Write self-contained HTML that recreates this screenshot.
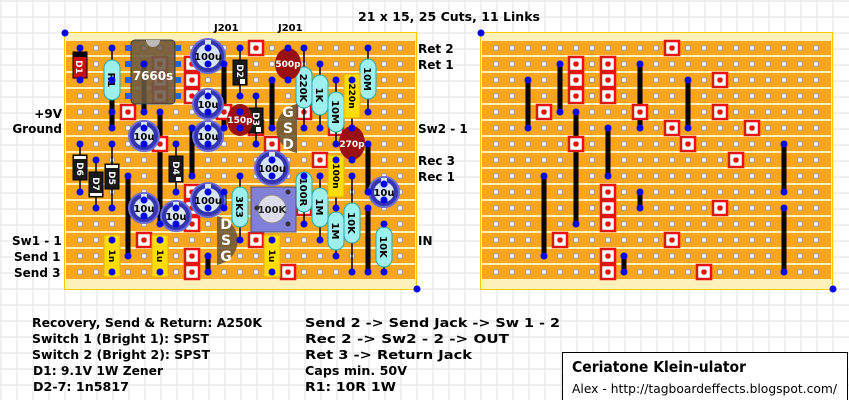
<!DOCTYPE html>
<html><head><meta charset="utf-8"><style>
body{margin:0;background:#fff}
svg{display:block}
text{font-family:"DejaVu Sans","Liberation Sans",sans-serif;font-weight:bold}
</style></head><body>
<svg id="s" width="849" height="400" viewBox="0 0 849 400" xmlns="http://www.w3.org/2000/svg">
<g id="bg"></g>
<g id="b1"></g>
<g id="b2"></g>
<g id="comp">
<g stroke="#000" stroke-width="1.5">
<line x1="80" y1="48" x2="80" y2="80"/><line x1="112" y1="48" x2="112" y2="112"/>
<line x1="240" y1="48" x2="240" y2="96"/><line x1="256" y1="96" x2="256" y2="144"/>
<line x1="288" y1="48" x2="288" y2="80"/><line x1="240" y1="112" x2="240" y2="128"/>
<line x1="304" y1="48" x2="304" y2="128"/><line x1="320" y1="64" x2="320" y2="128"/>
<line x1="336" y1="80" x2="336" y2="144"/><line x1="352" y1="80" x2="352" y2="128"/>
<line x1="368" y1="48" x2="368" y2="112"/><line x1="352" y1="128" x2="352" y2="160"/>
<line x1="336" y1="160" x2="336" y2="208"/><line x1="304" y1="176" x2="304" y2="224"/>
<line x1="320" y1="176" x2="320" y2="240"/><line x1="336" y1="208" x2="336" y2="256"/>
<line x1="352" y1="176" x2="352" y2="272"/><line x1="384" y1="224" x2="384" y2="272"/>
<line x1="240" y1="176" x2="240" y2="240"/><line x1="272" y1="240" x2="272" y2="272"/>
<line x1="80" y1="144" x2="80" y2="192"/><line x1="96" y1="160" x2="96" y2="208"/>
<line x1="112" y1="144" x2="112" y2="208"/><line x1="176" y1="144" x2="176" y2="192"/>
<line x1="112" y1="240" x2="112" y2="272"/><line x1="160" y1="240" x2="160" y2="272"/>
</g>
<rect x="131" y="40" width="44" height="64" rx="4" fill="#6b5a45" fill-opacity="0.88" stroke="#333"/>
<path d="M146,40 A7,7 0 0 0 160,40 Z" fill="#bbb"/>
<g fill="#1e5ee8"><rect x="125" y="45" width="6" height="6"/><rect x="125" y="61" width="6" height="6"/><rect x="125" y="77" width="6" height="6"/><rect x="125" y="93" width="6" height="6"/><rect x="175" y="45" width="6" height="6"/><rect x="175" y="61" width="6" height="6"/><rect x="175" y="77" width="6" height="6"/><rect x="175" y="93" width="6" height="6"/></g>
<text x="153" y="80" fill="#fff" font-size="12" text-anchor="middle">7660s</text>
<rect x="73" y="52" width="14" height="26" fill="#c81010" stroke="#000"/><rect x="73" y="52" width="14" height="5" fill="#000"/>
<text transform="translate(76,67) rotate(90)" fill="#fff" font-size="9" text-anchor="middle">D1</text>
<g fill="#1a1a1a" stroke="#000">
<rect x="233" y="60" width="14" height="25"/><rect x="249" y="108" width="14" height="25"/>
<rect x="73" y="155" width="14" height="25"/><rect x="89" y="172" width="14" height="25"/>
<rect x="105" y="164" width="14" height="25"/><rect x="169" y="156" width="14" height="26"/>
</g>
<g fill="#fff"><rect x="240" y="79" width="5" height="5"/><rect x="256" y="127" width="5" height="5"/>
<rect x="74" y="156" width="12" height="3"/><rect x="90" y="193" width="12" height="3"/><rect x="106" y="165" width="12" height="3"/><rect x="176" y="177" width="5" height="4"/></g>
<g fill="#fff" font-size="9" text-anchor="middle">
<text transform="translate(237,71) rotate(90)">D2</text><text transform="translate(253,119) rotate(90)">D3</text>
<text transform="translate(77,169) rotate(90)">D6</text><text transform="translate(93,184) rotate(90)">D7</text>
<text transform="translate(109,178) rotate(90)">D5</text><text transform="translate(173,168) rotate(90)">D4</text>
</g>
<g fill="#9ef0ee" stroke="#2aa" stroke-width="1">
<rect x="104" y="60" width="16" height="40" rx="8"/>
<rect x="296" y="67" width="16" height="41" rx="8"/>
<rect x="312" y="75" width="16" height="40" rx="8"/>
<rect x="328" y="92" width="16" height="40" rx="8"/>
<rect x="360" y="59" width="16" height="40" rx="8"/>
<rect x="296" y="172" width="16" height="40" rx="8"/>
<rect x="312" y="188" width="16" height="39" rx="8"/>
<rect x="328" y="212" width="16" height="38" rx="8"/>
<rect x="344" y="203" width="16" height="40" rx="8"/>
<rect x="376" y="227" width="16" height="40" rx="8"/>
<rect x="232" y="187" width="16" height="40" rx="8"/>
</g>
<g fill="#000" font-size="10" text-anchor="middle">
<text transform="translate(108,80) rotate(90)">R1</text>
<text transform="translate(300,88) rotate(90)">220K</text>
<text transform="translate(316,95) rotate(90)">1K</text>
<text transform="translate(332,112) rotate(90)">10M</text>
<text transform="translate(364,79) rotate(90)">10M</text>
<text transform="translate(300,192) rotate(90)">100R</text>
<text transform="translate(316,207) rotate(90)">1M</text>
<text transform="translate(332,231) rotate(90)">1M</text>
<text transform="translate(348,223) rotate(90)">10K</text>
<text transform="translate(380,247) rotate(90)">10K</text>
<text transform="translate(236,207) rotate(90)">3K3</text>
</g>
<g fill="#ffdd00" stroke="#e0b000">
<rect x="344" y="74" width="16" height="44"/><rect x="328" y="155" width="16" height="42"/>
<rect x="264" y="235" width="16" height="42"/><rect x="104" y="235" width="16" height="42"/><rect x="152" y="235" width="16" height="42"/>
</g>
<g fill="#000" font-size="9" text-anchor="middle">
<text transform="translate(349,96) rotate(90)">220n</text><text transform="translate(333,176) rotate(90)">100n</text>
<text transform="translate(269,256) rotate(90)">1u</text><text transform="translate(109,256) rotate(90)">1n</text><text transform="translate(157,256) rotate(90)">1u</text>
</g>
<g fill="#9a1010"><ellipse cx="240" cy="120" rx="13" ry="16"/><ellipse cx="288" cy="64" rx="13" ry="16"/><ellipse cx="352" cy="143" rx="13" ry="17"/></g>
<g fill="#fff" font-size="9" text-anchor="middle"><text x="240" y="123">150p</text><text x="288" y="67">500p</text><text x="352" y="147">270p</text></g>
<rect x="251" y="187" width="45" height="45" fill="#8080d8" stroke="#556"/>
<circle cx="272" cy="209" r="14" fill="#dcdcea" stroke="#888"/>
<g fill="#333"><circle cx="288" cy="192" r="2.5"/><circle cx="288" cy="224" r="2.5"/><circle cx="257" cy="208" r="2.5"/></g>
<text x="272" y="213" font-size="10" text-anchor="middle" fill="#222">100K</text>
<path d="M297,104 A26,25 0 0 0 297,153 Z" fill="#6b5535" fill-opacity="0.88"/>
<path d="M217,216 A26,25 0 0 1 217,265 Z" fill="#6b5535" fill-opacity="0.88"/>
<g fill="#fff" font-size="14" text-anchor="middle">
<text x="288" y="117">G</text><text x="288" y="133">S</text><text x="288" y="149">D</text>
<text x="226" y="229">D</text><text x="226" y="245">S</text><text x="226" y="261">G</text>
</g>
<g id="caps"></g>
</g>
<g id="dots"></g>
<g fill="#000" font-size="12">
<text x="358" y="21" font-size="12.5" textLength="182" lengthAdjust="spacingAndGlyphs">21 x 15, 25 Cuts, 11 Links</text>
<text x="214" y="31" font-size="10">J201</text><text x="278" y="31" font-size="10">J201</text>
<text x="62" y="118" text-anchor="end">+9V</text><text x="62" y="133" text-anchor="end">Ground</text>
<text x="12" y="245">Sw1 - 1</text><text x="14" y="261">Send 1</text><text x="14" y="277">Send 3</text>
<text x="418" y="53">Ret 2</text><text x="418" y="69">Ret 1</text><text x="418" y="133">Sw2 - 1</text>
<text x="418" y="165">Rec 3</text><text x="418" y="181">Rec 1</text><text x="418" y="245">IN</text>
</g>
<g fill="#000" font-size="12.5">
<text x="32" y="327" textLength="230" lengthAdjust="spacingAndGlyphs">Recovery, Send &amp; Return: A250K</text>
<text x="32" y="343" textLength="177" lengthAdjust="spacingAndGlyphs">Switch 1 (Bright 1): SPST</text>
<text x="32" y="359" textLength="178" lengthAdjust="spacingAndGlyphs">Switch 2 (Bright 2): SPST</text>
<text x="33" y="375" textLength="130" lengthAdjust="spacingAndGlyphs">D1: 9.1V 1W Zener</text>
<text x="33" y="391" textLength="96" lengthAdjust="spacingAndGlyphs">D2-7: 1n5817</text>
<text x="305" y="327" textLength="255" lengthAdjust="spacingAndGlyphs">Send 2 -&gt; Send Jack -&gt; Sw 1 - 2</text>
<text x="305" y="343" textLength="204" lengthAdjust="spacingAndGlyphs">Rec 2 -&gt; Sw2 - 2 -&gt; OUT</text>
<text x="305" y="359" textLength="167" lengthAdjust="spacingAndGlyphs">Ret 3 -&gt; Return Jack</text>
<text x="305" y="375" textLength="102" lengthAdjust="spacingAndGlyphs">Caps min. 50V</text>
<text x="305" y="391" textLength="91" lengthAdjust="spacingAndGlyphs">R1: 10R 1W</text>
</g>
<rect x="562.5" y="352.5" width="285" height="50" fill="#fff" stroke="#000"/>
<text x="572" y="372" font-size="15" textLength="174" lengthAdjust="spacingAndGlyphs">Ceriatone Klein-ulator</text>
<text x="572" y="393" font-size="12.5" style="font-weight:normal" textLength="265" lengthAdjust="spacingAndGlyphs">Alex - http://tagboardeffects.blogspot.com/</text>
</svg>
<script>
var NS="http://www.w3.org/2000/svg";
function el(p,t,a){var e=document.createElementNS(NS,t);for(var k in a)e.setAttribute(k,a[k]);p.appendChild(e);return e;}
var bg=document.getElementById('bg');
for(var x=1;x<849;x+=16)el(bg,'line',{x1:x,y1:0,x2:x,y2:400,stroke:'#e2e2e2'});
for(var y=1;y<400;y+=16)el(bg,'line',{x1:0,y1:y,x2:849,y2:y,stroke:'#e2e2e2'});
var cuts=[[11,0],[5,1],[7,1],[5,2],[7,2],[14,2],[5,3],[7,3],[3,4],[9,4],[14,4],[11,5],[16,5],[5,6],[12,6],[15,7],[7,9],[7,10],[14,10],[7,11],[4,12],[11,12],[7,13],[7,14],[13,14]];
var links=[[2,2,5],[4,1,4],[9,1,5],[5,4,11],[7,5,8],[12,2,5],[18,6,9],[18,10,14],[3,8,13],[9,9,10],[8,13,14]];
var dots=document.getElementById('dots');
function board(g,ox){
 el(g,'rect',{x:ox-15.5,y:32.5,width:352,height:257,fill:'#fdf0bb',stroke:'#f5c800'});
 for(var r=0;r<15;r++)el(g,'rect',{x:ox-14,y:41+16*r,width:349,height:14,fill:'#fba51c'});
 for(var r=0;r<15;r++)for(var c=0;c<21;c++)el(g,'circle',{cx:ox+16*c,cy:48+16*r,r:2.6,fill:'#fff',stroke:'#999','stroke-width':1.2});
 links.forEach(function(l){var x=ox+16*l[0];el(g,'line',{x1:x,y1:48+16*l[1],x2:x,y2:48+16*l[2],stroke:'#000','stroke-width':5});
  el(dots,'circle',{cx:x,cy:48+16*l[1],r:3.5,fill:'#0000ee'});el(dots,'circle',{cx:x,cy:48+16*l[2],r:3.5,fill:'#0000ee'});});
 cuts.forEach(function(c){var x=ox+16*c[0],y=48+16*c[1];el(g,'rect',{x:x-7,y:y-7,width:14,height:14,fill:'#fff',stroke:'#e81010','stroke-width':2.5});el(g,'circle',{cx:x,cy:y,r:2.8,fill:'#e81010'});});
 el(dots,'circle',{cx:ox-15,cy:33,r:3.5,fill:'#0000ee'});el(dots,'circle',{cx:ox+337,cy:289,r:3.5,fill:'#0000ee'});
}
board(document.getElementById('b1'),80);board(document.getElementById('b2'),496);
var caps=document.getElementById('caps');
[[208,56,'100u',17],[208,104,'10u',15],[144,136,'10u',15],[208,136,'10u',15],[272,168,'100u',17],[144,208,'10u',15],[176,216,'10u',15],[208,200,'100u',17],[384,192,'10u',15]].forEach(function(c){
 el(caps,'circle',{cx:c[0],cy:c[1],r:c[3],fill:'#3535b0',stroke:'#6c6cd8','stroke-width':2});
 el(caps,'circle',{cx:c[0],cy:c[1],r:c[3]-5,fill:'#d6e6f4'});
 el(caps,'rect',{x:c[0]-3,y:c[1]-c[3]+1,width:6,height:4,fill:'#d6e6f4'});
 el(dots,'circle',{cx:c[0],cy:c[1]-8,r:3.5,fill:'#0000ee'});el(dots,'circle',{cx:c[0],cy:c[1]+8,r:3.5,fill:'#0000ee'});
 var t=el(caps,'text',{x:c[0],y:c[1]+4,'font-size':10,'text-anchor':'middle',fill:'#000'});t.textContent=c[2];
});
var L=[[80,48],[80,80],[112,48],[112,112],[240,48],[240,96],[256,96],[256,144],[288,48],[288,80],[240,112],[240,128],[304,48],[304,128],[320,64],[320,128],[336,80],[336,144],[352,80],[352,128],[368,48],[368,112],[352,160],[336,160],[336,208],[304,176],[304,224],[320,176],[320,240],[336,256],[352,176],[352,272],[384,224],[384,272],[240,176],[240,240],[272,240],[272,272],[80,144],[80,192],[96,160],[96,208],[112,144],[112,208],[176,144],[176,192],[112,240],[112,272],[160,240],[160,272]];
L.forEach(function(p){el(dots,'circle',{cx:p[0],cy:p[1],r:3.5,fill:'#0000ee'});});
</script>
</body></html>
